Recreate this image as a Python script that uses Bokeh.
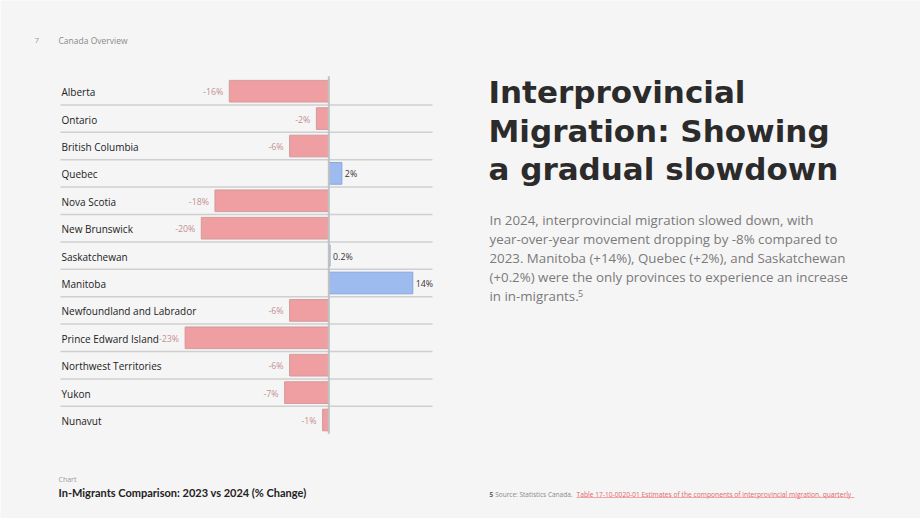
from bokeh.plotting import figure
from bokeh.models import Range1d, Label, ColumnDataSource, BoxAnnotation
from bokeh.core.properties import value
from bokeh.embed import file_html
from bokeh.resources import INLINE

# ---------------- data ----------------
provinces = ["Alberta", "Ontario", "British Columbia", "Quebec", "Nova Scotia",
             "New Brunswick", "Saskatchewan", "Manitoba",
             "Newfoundland and Labrador", "Prince Edward Island",
             "Northwest Territories", "Yukon", "Nunavut"]
change_pct = [-16.0, -2.0, -6.3, 2.1, -18.3, -20.5, 0.2, 13.5, -6.3, -23.1, -6.3, -7.1, -1.0]
change_labels = ["-16%", "-2%", "-6%", "2%", "-18%", "-20%", "0.2%", "14%",
                 "-6%", "-23%", "-6%", "-7%", "-1%"]

title_lines = ["Interprovincial", "Migration: Showing", "a gradual slowdown"]
body_lines = ["In 2024, interprovincial migration slowed down, with",
              "year-over-year movement dropping by -8% compared to",
              "2023. Manitoba (+14%), Quebec (+2%), and Saskatchewan",
              "(+0.2%) were the only provinces to experience an increase",
              "in in-migrants."]

# ---------------- layout ----------------
W, H = 920, 518
BG = "#f5f5f5"
ZERO_PX, PX_PER_PCT = 328.3, 6.22
ROW0_PX, ROW_PX = 90.7, 27.4

x_start = -ZERO_PX / PX_PER_PCT
x_end = (W - ZERO_PX) / PX_PER_PCT
y_top = -ROW0_PX / ROW_PX
y_bottom = (H - ROW0_PX) / ROW_PX

def xdata(px):
    return (px - ZERO_PX) / PX_PER_PCT

p = figure(width=W, height=H, x_range=Range1d(x_start, x_end),
           y_range=Range1d(y_bottom, y_top),
           x_axis_location=None, y_axis_location=None,
           toolbar_location=None, output_backend="svg", min_border=0)
p.grid.visible = False
p.outline_line_color = None
p.background_fill_color = BG
p.border_fill_color = BG

idx = list(range(len(provinces)))
n = len(provinces)

# row separators
sep_y = [i + 0.5 for i in idx[:-1]]
p.segment(x0=[xdata(60)] * len(sep_y), x1=[xdata(432)] * len(sep_y),
          y0=sep_y, y1=sep_y, line_color="#cfcfcf", line_width=1.5)

# bars
neg_fill, pos_fill = "#ef9ea1", "#9dbbee"
src = ColumnDataSource(dict(
    y=idx, v=change_pct, lab=change_labels, name=provinces,
    fill=[neg_fill if v < 0 else pos_fill for v in change_pct],
    line=["#d39a9c" if v < 0 else "#88a6dc" for v in change_pct],
))
p.hbar(y="y", left=0, right="v", height=0.79, fill_color="fill",
       line_color="line", line_width=1, source=src)

# zero line
p.segment(x0=[0], x1=[0], y0=[-0.55], y1=[n - 0.5], line_color="#c2c2c2", line_width=2)

# province names
p.text(x=[xdata(61)] * n, y=idx, text=provinces, text_align="left",
       text_baseline="middle", text_font=value("Open Sans"),
       text_font_size="10px", text_color="#222222", y_offset=1)

# value labels
neg = [i for i, v in enumerate(change_pct) if v < 0]
pos = [i for i, v in enumerate(change_pct) if v >= 0]
p.text(x=[change_pct[i] for i in neg], y=[idx[i] for i in neg],
       text=[change_labels[i] for i in neg], x_offset=-6, text_align="right",
       text_baseline="middle", text_font=value("Open Sans"),
       text_font_size="8.8px", text_color="#c48f92", y_offset=1)
p.text(x=[change_pct[i] for i in pos], y=[idx[i] for i in pos],
       text=[change_labels[i] for i in pos], x_offset=3, text_align="left",
       text_baseline="middle", text_font=value("Open Sans"),
       text_font_size="8.8px", text_color="#333333", y_offset=1)

def lab(text, x, y_px, size, color, font="Open Sans", style="normal"):
    p.add_layout(Label(x=x, y=H - y_px, x_units="screen", y_units="screen",
                       text=text, text_font=font, text_font_size=size,
                       text_font_style=style, text_color=color,
                       text_baseline="middle", text_align="left"))

# header
lab("7", 34, 40, "8px", "#9a9a9a")
lab("Canada Overview", 58, 40, "8.5px", "#8a8a8a")

# title
for k, t in enumerate(title_lines):
    lab(t, 488, 91.5 + 38.5 * k, "31px", "#2b2b2b", font="DejaVu Sans", style="bold")

# body paragraph
for k, t in enumerate(body_lines):
    lab(t, 489, 219.5 + 19.1 * k, "13.3px", "#7a7a7a")
lab("5", 577.5, 292.5, "9px", "#7a7a7a")

# footer left
lab("Chart", 58, 479, "7px", "#9a9a9a")
lab("In-Migrants Comparison: 2023 vs 2024 (% Change)", 58, 492, "11px",
    "#222222", font="Lato", style="bold")

# footer source
lab("5", 489, 494, "6.5px", "#666666", style="bold")
lab("Source: Statistics Canada.", 494.7, 494, "6.5px", "#8a8a8a")
lab("Table 17-10-0020-01  Estimates of the components of interprovincial migration, quarterly",
    576, 494, "6.7px", "#e2686c")
p.add_layout(BoxAnnotation(left=576, right=854, bottom=H - 497.6, top=H - 496.6,
                           left_units="screen", right_units="screen",
                           top_units="screen", bottom_units="screen",
                           fill_color="#f2a3a5", fill_alpha=1, line_color=None))

open("out.html", "w").write(file_html(p, INLINE))
